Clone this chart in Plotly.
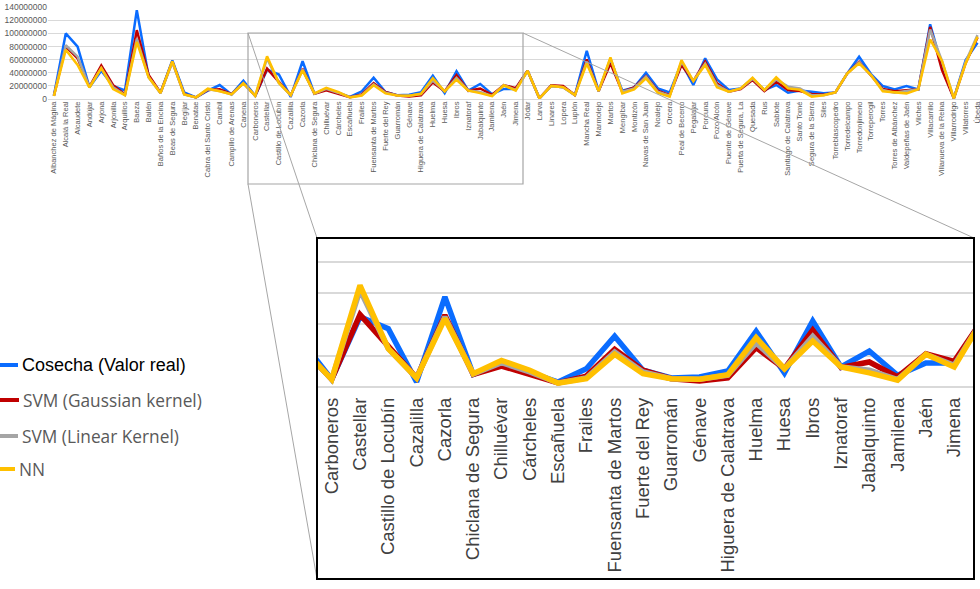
import plotly.graph_objects as go

municipios = [
    "Albanchez de Mágina", "Alcalá la Real", "Alcaudete", "Andújar", "Arjona", "Arjonilla",
    "Arquillos", "Baeza", "Bailén", "Baños de la Encina", "Beas de Segura", "Begíjar",
    "Benatae", "Cabra del Santo Cristo", "Cambil", "Campillo de Arenas", "Canena",
    "Carboneros", "Castellar", "Castillo de Locubín", "Cazalilla", "Cazorla",
    "Chiclana de Segura", "Chilluévar", "Cárcheles", "Escañuela", "Frailes",
    "Fuensanta de Martos", "Fuerte del Rey", "Guarromán", "Génave", "Higuera de Calatrava",
    "Huelma", "Huesa", "Ibros", "Iznatoraf", "Jabalquinto", "Jamilena", "Jaén", "Jimena",
    "Jódar", "Larva", "Linares", "Lopera", "Lupión", "Mancha Real", "Marmolejo", "Martos",
    "Mengíbar", "Montizón", "Navas de San Juan", "Noalejo", "Orcera", "Peal de Becerro",
    "Pegalajar", "Porcuna", "Pozo Alcón", "Puente de Génave", "Puerta de Segura, La",
    "Quesada", "Rus", "Sabiote", "Santiago de Calatrava", "Santo Tomé", "Segura de la Sierra",
    "Siles", "Torreblascopedro", "Torredelcampo", "Torredonjimeno", "Torreperogil", "Torres",
    "Torres de Albánchez", "Valdepeñas de Jaén", "Vilches", "Villacarrillo",
    "Villanueva de la Reina", "Villarrodrigo", "Villatorres", "Úbeda",
]

# values in millions
cosecha_M = [
    5.5, 100, 80, 18, 43, 20, 13, 135.5, 34, 9.6, 59, 10, 2.5, 12.7, 21.3, 7, 28,
    4.9, 44.8, 37.3, 3.2, 57.6, 8.1, 15.5, 9.6, 3.2, 11.7, 32.4, 10.7, 5.8, 6.4, 10.2,
    35.6, 9, 42.2, 12.8, 23, 7.5, 15.4, 15.4,
    43, 1, 20, 18, 6, 73.6, 12, 60.4, 12.7, 17.8, 40, 16.2, 10, 55, 21.3, 62, 30,
    13.7, 16.2, 30.4, 13.7, 21.3, 9.6, 13, 11.2, 8.6, 10.1, 39, 64.4, 38, 19.8, 14.7,
    19.8, 14.7, 114, 50, 1, 59.4, 85.7,
]
svm_gauss_M = [
    5, 80, 62, 18.5, 51, 21, 7, 105, 36.5, 9.6, 57, 7.5, 2.5, 13.7, 14.7, 7.5, 24,
    4.9, 46.3, 26.7, 5.8, 45.9, 8.1, 13.4, 8.1, 2.6, 7, 24.1, 10.7, 5.3, 3.8, 5.8,
    25.2, 11.7, 36.3, 12.5, 16, 6.4, 21.3, 16.4,
    43, 1, 21, 20, 6, 60.4, 12, 54.3, 11, 17.8, 35, 12.7, 6, 51.8, 27.4, 57, 24,
    11.2, 15, 29, 12, 26.4, 13.7, 12, 7.6, 6.6, 10.1, 39, 56.8, 36.5, 15.2, 11.7,
    13.7, 14.7, 110, 44, 1, 55, 93.8,
]
svm_linear_M = [
    5, 82, 64.5, 18, 47, 18, 6, 92, 33, 9, 56, 7, 2.5, 14.7, 12.2, 7, 24,
    4.9, 62, 24.5, 5.8, 44.8, 8.3, 15.6, 9.6, 2.6, 5.8, 22.4, 9.6, 5.3, 4.9, 7.5,
    28.2, 11.7, 32.4, 12.8, 10.7, 4.7, 20.9, 13.9,
    43, 1, 20, 18, 6, 57, 12, 62, 11, 16.2, 34, 11.2, 5, 57, 27.4, 54, 21.3,
    11.2, 16.2, 31, 13.7, 30, 18.8, 16, 5.6, 5.6, 10.1, 39, 55.8, 36.5, 13.7, 9.6,
    12.2, 14.7, 106, 58, 1, 56.8, 97.4,
]
nn_M = [
    4.5, 75, 52, 17.5, 47, 15, 6, 87, 33, 9, 57.5, 7, 2.5, 15.7, 11.7, 7, 24,
    4.9, 65, 24.5, 5.8, 43.7, 8.5, 17, 10.7, 2.4, 5.3, 20.9, 8.5, 5.3, 4.9, 7.9,
    31.6, 11.7, 29.4, 12.8, 9, 4.3, 20.9, 12.8,
    43, 1, 20, 18, 6, 54, 12, 63.4, 8.6, 14.7, 31.5, 9.6, 3.5, 59.4, 27.4, 51.8, 17.8,
    11.2, 16.2, 32.5, 13.7, 33, 16.2, 14, 3.5, 5.6, 10.1, 39, 54.3, 36.5, 11.7, 9.6,
    8.6, 14.7, 90.8, 58, 1, 54.3, 94.9,
]

series = [
    ("Cosecha (Valor real)", cosecha_M, "#0A6CFF"),
    ("SVM (Gaussian kernel)", svm_gauss_M, "#C00000"),
    ("SVM (Linear Kernel)", svm_linear_M, "#A5A5A5"),
    ("NN", nn_M, "#FFC000"),
]

W, H = 980, 589
def px(x):
    return x / W
def py(y):
    return 1 - y / H

fig = go.Figure()
for name, vals, col in series:
    yv = [v * 1e6 for v in vals]
    fig.add_trace(go.Scatter(x=municipios, y=yv, mode="lines", name=name,
                             line=dict(color=col, width=2.5), xaxis="x", yaxis="y",
                             hoverinfo="skip"))
for name, vals, col in series:
    yv = [v * 1e6 for v in vals]
    fig.add_trace(go.Scatter(x=municipios, y=yv, mode="lines", name=name,
                             line=dict(color=col, width=5.5), xaxis="x2", yaxis="y2",
                             hoverinfo="skip"))

grid = "#D9D9D9"
fig.update_layout(
    width=W, height=H, margin=dict(l=0, r=0, t=0, b=0),
    paper_bgcolor="white", plot_bgcolor="white", showlegend=False,
    xaxis=dict(domain=[px(48), 1], type="category", range=[-0.5, 78.21],
               tickangle=-90, tickfont=dict(family="Arial", size=7.5, color="#595959"),
               showgrid=False, showline=False, zeroline=False, ticks="",
               automargin=False, anchor="y"),
    yaxis=dict(domain=[py(99), py(7)], range=[0, 140.3e6], dtick=20e6,
               tickformat="d", tickfont=dict(family="Arial", size=8.5, color="#595959"),
               gridcolor=grid, gridwidth=1, showline=False, zeroline=True,
               zerolinecolor=grid, zerolinewidth=1, ticks="", automargin=False,
               anchor="x"),
    xaxis2=dict(domain=[px(317), px(974)], type="category", range=[16.48, 39.7],
                tickangle=-90, tickfont=dict(family="Arial", size=18.5, color="#404040"),
                showgrid=False, showline=False, zeroline=False, ticks="",
                ticklabelstandoff=6, automargin=False, anchor="y2"),
    yaxis2=dict(domain=[py(387), py(239)], range=[0, 94.6e6], dtick=20e6,
                showticklabels=False, gridcolor=grid, gridwidth=1.5, showline=False,
                zeroline=True, zerolinecolor=grid, zerolinewidth=1.5, ticks="",
                automargin=False, anchor="x2"),
)

shapes = []
conn = "#A6A6A6"
# zoom rectangle on the main chart
shapes.append(dict(type="rect", xref="paper", yref="paper", x0=px(248), x1=px(523),
                   y0=py(184), y1=py(33), line=dict(color=conn, width=1.2), layer="above"))
# connectors
for (xa, ya, xb, yb) in [(248, 33, 317, 238), (248, 184, 317, 579), (523, 33, 974, 238)]:
    shapes.append(dict(type="line", xref="paper", yref="paper", x0=px(xa), y0=py(ya),
                       x1=px(xb), y1=py(yb), line=dict(color=conn, width=1), layer="above"))
# inset frame
shapes.append(dict(type="rect", xref="paper", yref="paper", x0=px(317), x1=px(974),
                   y0=py(579), y1=py(238), line=dict(color="black", width=2), layer="above"))

# manual legend
leg_y = [365, 400, 436, 469]
leg_len = [18, 19, 18, 15]
leg_font = [dict(family="Arial", size=18, color="#000000"),
            dict(family="Open Sans", size=17.3, color="#595959"),
            dict(family="Open Sans", size=17.3, color="#595959"),
            dict(family="Open Sans", size=17.3, color="#595959")]
annotations = []
for (name, vals, col), yy, ll, ff in zip(series, leg_y, leg_len, leg_font):
    shapes.append(dict(type="line", xref="paper", yref="paper", x0=0, x1=px(ll),
                       y0=py(yy), y1=py(yy), line=dict(color=col, width=4), layer="above"))
    annotations.append(dict(xref="paper", yref="paper", x=px(ll + 2), y=py(yy), text=name,
                            showarrow=False, xanchor="left", yanchor="middle", font=ff))

fig.update_layout(shapes=shapes, annotations=annotations)
fig.write_html("out.html", config={"displayModeBar": False},
               post_script="document.body.style.margin='0';document.body.style.overflow='hidden';")
